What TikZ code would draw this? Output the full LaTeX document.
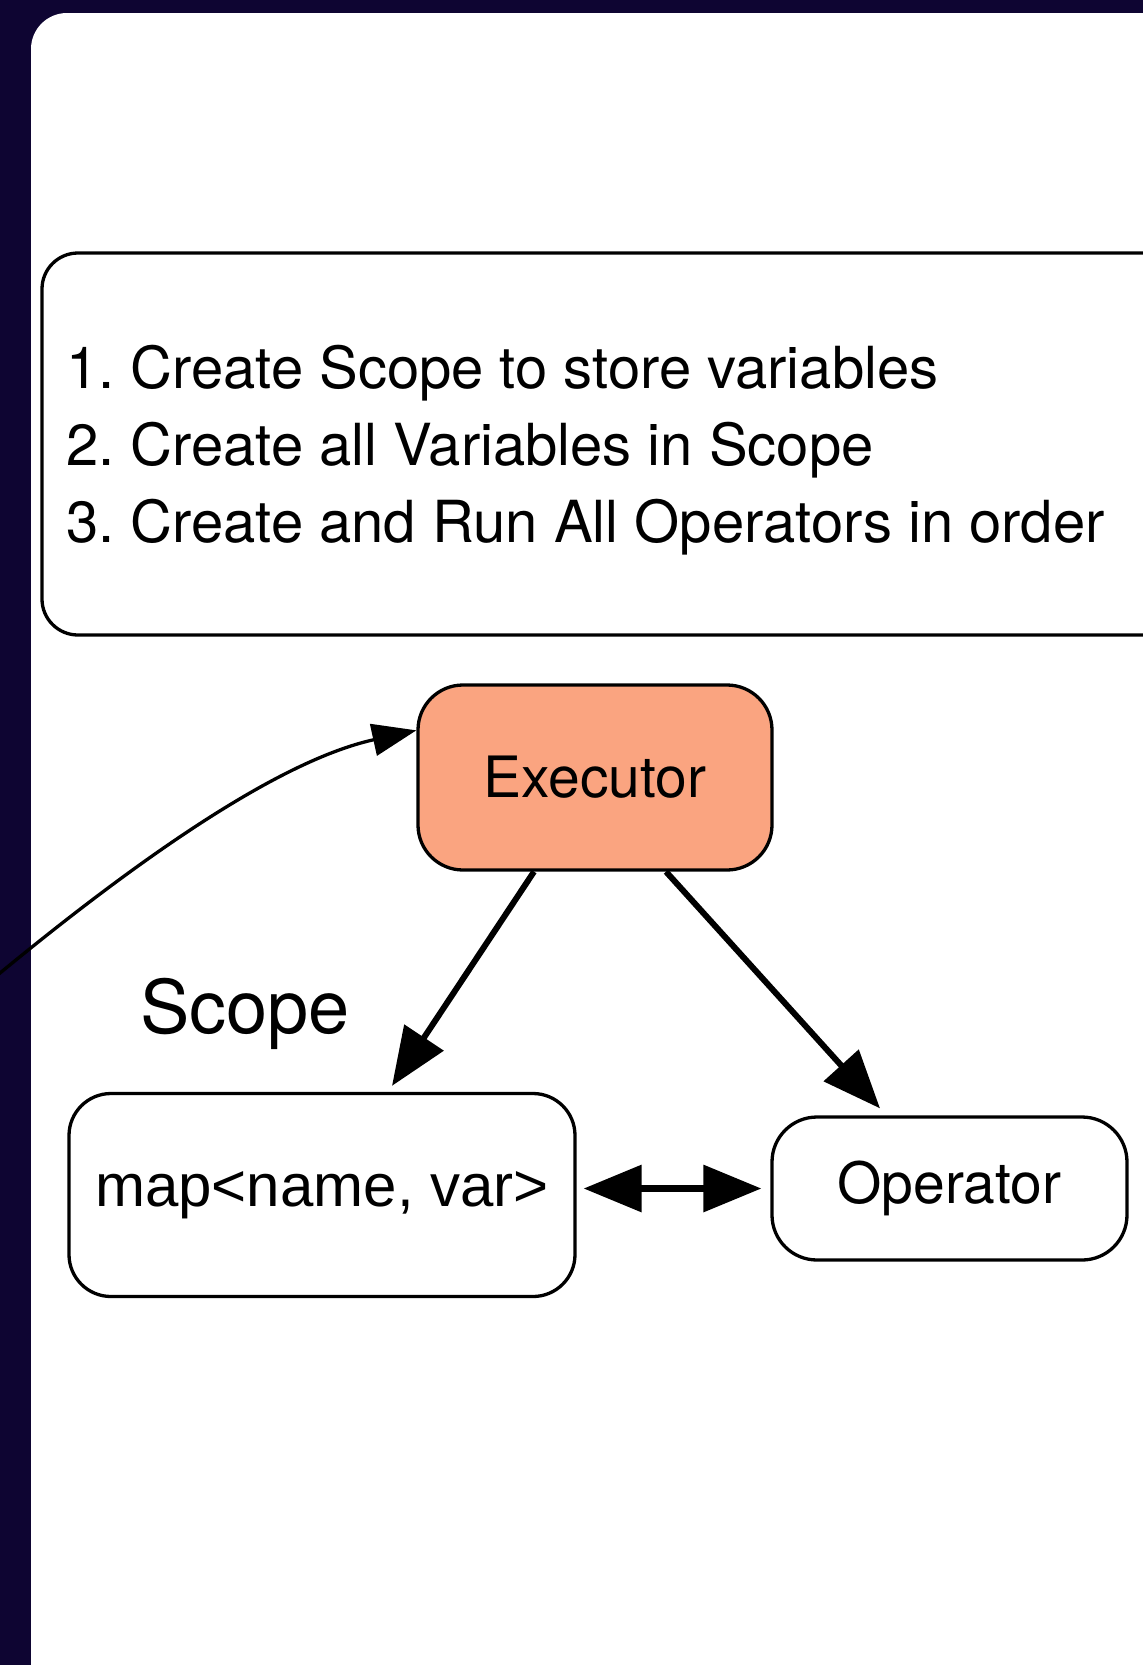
\documentclass[tikz,border=0pt]{standalone}
\usepackage{fontspec}
\setmainfont{TeX Gyre Heros}
\newfontfamily\arialish{Liberation Sans}
\frenchspacing
\usetikzlibrary{arrows.meta}
\definecolor{night}{RGB}{14,5,50}
\definecolor{salmon}{RGB}{250,164,128}
\begin{document}
\begin{tikzpicture}[x=1pt,y=-1pt,
  box/.style={draw=black, line width=3.3pt, inner sep=0pt,
    font=\fontsize{57}{60}\selectfont},
  label/.style={inner sep=0pt, anchor=base west},
  heavy/.style={line width=6pt, -{Triangle[length=58pt,width=46pt]}},
  both/.style={line width=6.5pt, {Triangle[length=58pt,width=46pt]}-{Triangle[length=58pt,width=46pt]}},
  light/.style={line width=3.3pt, -{Triangle[length=44pt,width=32pt]}}
]
\useasboundingbox (0,0) rectangle (1143,1665);
\clip (0,0) rectangle (1143,1665);
% backdrop and white panel
\fill[night] (0,0) rectangle (1143,1665);
\fill[white, rounded corners=36pt] (31,13) rectangle (1260,1760);

% list of steps
\node[box, rounded corners=36pt, minimum width=1158pt, minimum height=382pt] (steps) at (621,444) {};
\node[label, font=\fontsize{58}{60}\selectfont] (s1) at (66,388) {1. Create Scope to store variables};
\node[label, font=\fontsize{58}{60}\selectfont] (s2) at (66,465) {2. Create all Variables in Scope};
\node[label, font=\fontsize{58}{60}\selectfont] (s3) at (66,542) {3. Create and Run All Operators in order};

% components
\node[box, fill=salmon, rounded corners=45pt, minimum width=354pt, minimum height=185pt] (exec) at (595,777.5) {Executor};
\node[box, rounded corners=42pt, minimum width=506pt, minimum height=203pt, font=\arialish\fontsize{60}{62}\selectfont] (map) at (322,1195) {map<name, var>};
\node[box, rounded corners=45pt, minimum width=355pt, minimum height=143pt] (op) at (949.5,1188.5) {Operator};
\node[label, font=\fontsize{74}{80}\selectfont] (scopelbl) at (140,1033) {Scope};

% connectors
\coordinate (src) at (-30,998);
\draw[light] (src) .. controls (108,882) and (268,763) .. ([yshift=-47pt]exec.north west);
\draw[heavy] ([xshift=-61pt]exec.south) -- ([xshift=70pt,yshift=6pt]map.north);
\draw[heavy] ([xshift=71pt]exec.south) -- ([xshift=-69.5pt,yshift=7pt]op.north);
\draw[both, shorten <=7pt, shorten >=9pt] (map.east |- op.west) -- (op.west);
\end{tikzpicture}
\end{document}
